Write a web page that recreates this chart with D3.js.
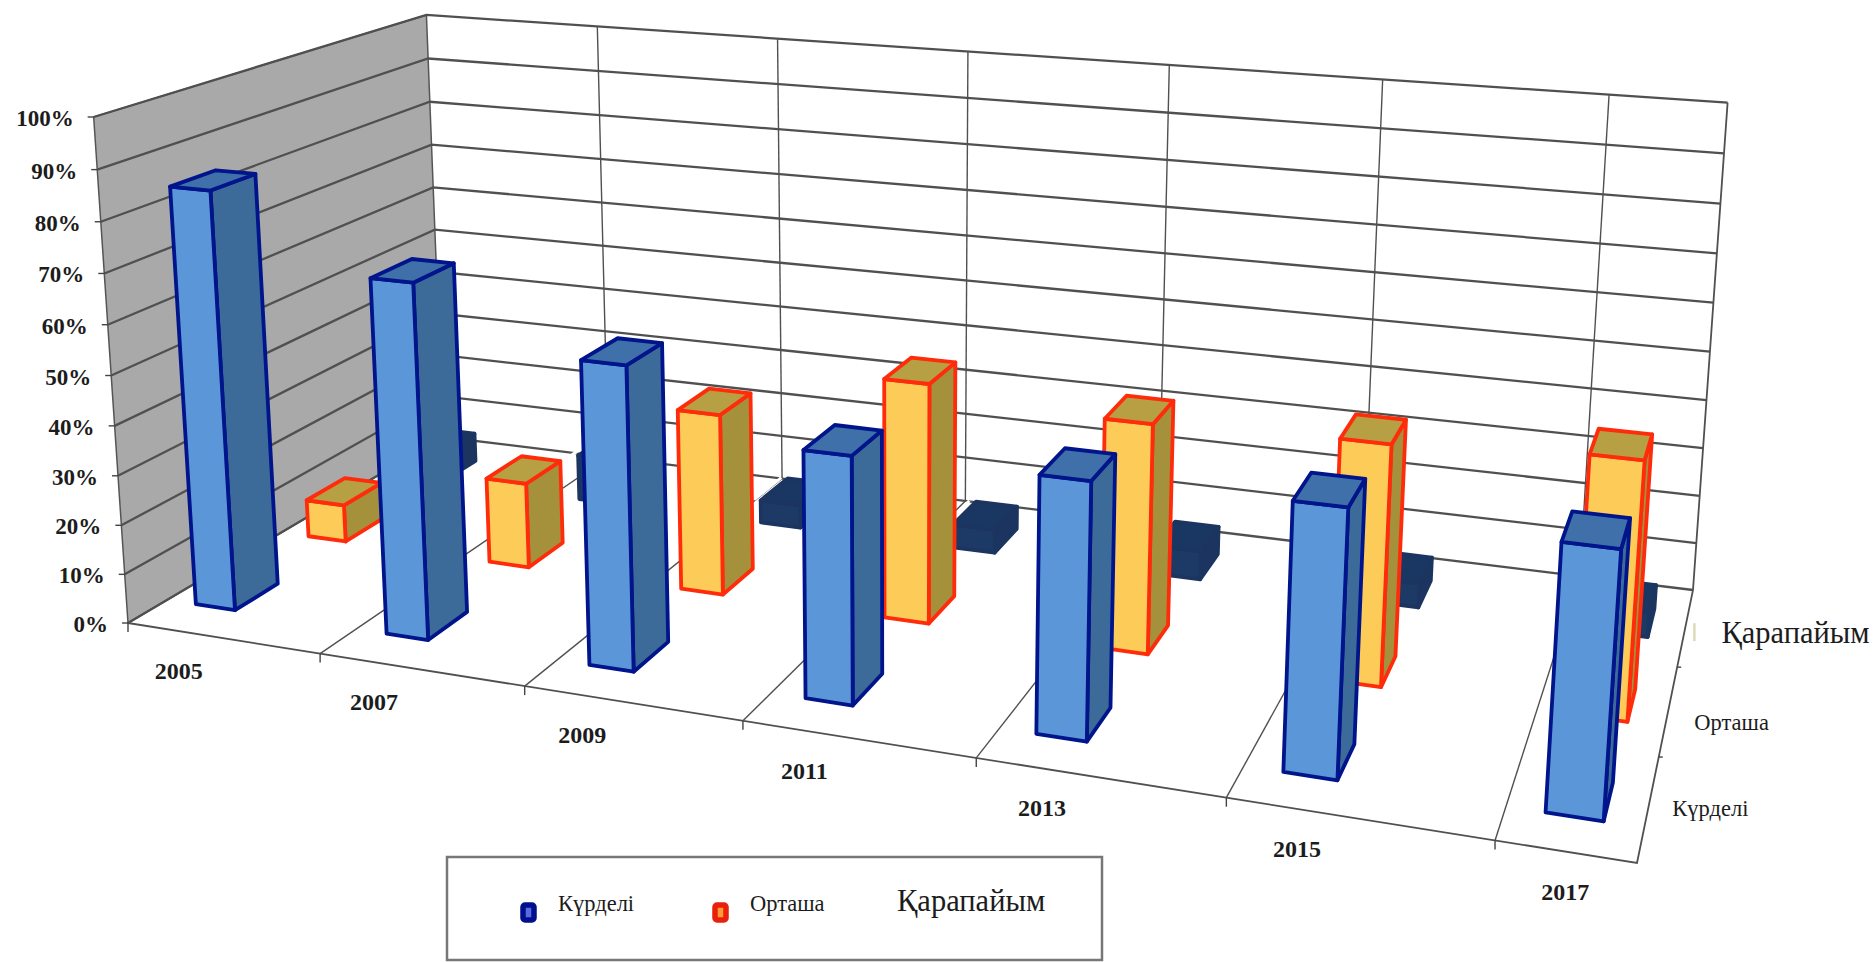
<!DOCTYPE html>
<html>
<head>
<meta charset="utf-8">
<script src="https://cdn.jsdelivr.net/npm/d3@7"></script>
<style>
  body { margin: 0; background: #fff; }
  text { font-family: "Liberation Serif", serif; fill: #1c1c1c; }
</style>
</head>
<body>
<div id="chart"></div>
<script>
const years = [2005, 2007, 2009, 2011, 2013, 2015, 2017];
const seriesNames = ["Күрделі", "Орташа", "Қарапайым"];
const kurdeli = [84.5, 70.6, 59.3, 47.3, 48, 48.8, 47.3];
const ortasha = [8, 18, 37.5, 48.6, 45.6, 46.8, 49];
const karapaiym = [6.5, 10, 5, 5, 6, 5, 5];
const percentTicks = [0, 10, 20, 30, 40, 50, 60, 70, 80, 90, 100];

const WIDTH = 1874, HEIGHT = 962;

// Floor corners and the point where upright edges converge
const FL = [128, 623], FR = [1637, 863], BR = [1693, 590], BL = [443, 437];
const VANISH = [900, 12000];
const TOP_OF_FL = 117;
// Extra vertical drift at full height, across and into the box
const TILT_U = 13, TILT_W = -2.5;

// World units: one band per two years (the last band is cut in half), one unit per series row
const xWorld = d3.scaleLinear().domain([2005, 2015, 2017]).range([0.26, 5.26, 6.25]);
const xLabel = d3.scaleLinear().domain([2005, 2015, 2017]).range([0.27, 5.27, 6.25]);
const xEdge = d3.scaleLinear().domain([0, 6.5]).range([0, 1]);
const zEdge = d3.scaleLinear().domain([0, 3]).range([0, 1]);
const yWorld = d3.scaleLinear().domain([0, 100]).range([0, 1]);

// Unit square to quad homography
const homography = (function () {
  const [x0, y0] = FL, [x1, y1] = FR, [x2, y2] = BR, [x3, y3] = BL;
  const dx1 = x1 - x2, dx2 = x3 - x2, sx = x0 - x1 + x2 - x3;
  const dy1 = y1 - y2, dy2 = y3 - y2, sy = y0 - y1 + y2 - y3;
  const den = dx1 * dy2 - dx2 * dy1;
  const g = (sx * dy2 - dx2 * sy) / den;
  const h = (dx1 * sy - sx * dy1) / den;
  return {
    a: x1 - x0 + g * x1, b: x3 - x0 + h * x3, c: x0,
    d: y1 - y0 + g * y1, e: y3 - y0 + h * y3, f: y0,
    g: g, h: h
  };
})();
const lambda = (TOP_OF_FL - FL[1]) / (VANISH[1] - TOP_OF_FL);

// x in bands, z in rows, v in percent
function project(x, z, v) {
  const u = xEdge(x), w = zEdge(z), s = yWorld(v), t = s * lambda;
  const H = homography;
  const X = H.a * u + H.b * w + H.c + t * VANISH[0];
  const Y = H.d * u + H.e * w + H.f + t * VANISH[1];
  const W = H.g * u + H.h * w + 1 + t;
  return [X / W, Y / W + s * (TILT_U * u + TILT_W * w)];
}

const line = d3.line();
const closed = pts => line(pts) + "Z";

const svg = d3.select("#chart").append("svg")
  .attr("width", WIDTH)
  .attr("height", HEIGHT);

// Left wall
svg.append("path")
  .attr("d", closed([project(0, 0, 0), project(0, 3, 0), project(0, 3, 100), project(0, 0, 100)]))
  .attr("fill", "#a9a9a9")
  .attr("stroke", "#555")
  .attr("stroke-width", 1.5);

const grid = svg.append("g")
  .attr("fill", "none")
  .attr("stroke", "#505050")
  .attr("stroke-width", 2.3);

// Percent gridlines on both walls
grid.selectAll(".wall")
  .data(percentTicks)
  .enter()
  .append("path")
    .attr("class", "wall")
    .attr("d", d => line([project(0, 0, d), project(0, 3, d), project(6.5, 3, d)]));

const bandEdges = d3.range(0, 7);

// Band dividers up the back wall
grid.selectAll(".upright")
  .data(bandEdges.slice(1))
  .enter()
  .append("path")
    .attr("class", "upright")
    .attr("stroke-width", 1.4)
    .attr("d", d => line([project(d, 3, 0), project(d, 3, 100)]));

// Floor outline and dividers
grid.selectAll(".floor")
  .data(bandEdges)
  .enter()
  .append("path")
    .attr("class", "floor")
    .attr("stroke-width", 1.4)
    .attr("d", d => line([project(d, 0, 0), project(d, 3, 0)]));
grid.append("path")
  .attr("d", line([project(0, 0, 0), project(6.5, 0, 0), project(6.5, 3, 0), project(6.5, 3, 100)]))
  .attr("stroke-width", 1.8);

// Tick marks
const ticks = svg.append("g").attr("stroke", "#444").attr("stroke-width", 1.4);
ticks.selectAll(".ty").data(percentTicks).enter().append("path")
  .attr("class", "ty")
  .attr("d", d => { const p = project(0, 0, d); return line([[p[0] - 6, p[1]], p]); });
ticks.selectAll(".tx").data(bandEdges).enter().append("path")
  .attr("class", "tx")
  .attr("d", d => { const p = project(d, 0, 0); return line([p, [p[0], p[1] + 9]]); });
ticks.selectAll(".tz").data([1, 2]).enter().append("path")
  .attr("class", "tz")
  .attr("d", d => { const p = project(6.5, d, 0); return line([p, [p[0] + 4, p[1]]]); });

// Bars, back row first so that nearer rows cover it
const BAR_HALF_X = 0.105, BAR_HALF_Z = 0.185;
const rows = [
  { name: seriesNames[2], values: karapaiym, z: 2.5, stroke: "#1b3560", front: "#1d3a66", side: "#1b3560", top: "#1a3763" },
  { name: seriesNames[1], values: ortasha, z: 1.5, stroke: "#ff2c0c", front: "#fdcb58", side: "#a5903c", top: "#b7a043" },
  { name: seriesNames[0], values: kurdeli, z: 0.5, stroke: "#00148c", front: "#5b97d8", side: "#3c6a99", top: "#3f70a9" }
];

rows.forEach(function (row) {
  const bars = years.map((y, i) => ({ x: xWorld(y), v: row.values[i] }));
  const g = svg.append("g")
    .attr("stroke", row.stroke)
    .attr("stroke-width", 3.8)
    .attr("stroke-linejoin", "round");
  const x0 = d => d.x - BAR_HALF_X, x1 = d => d.x + BAR_HALF_X;
  const z0 = row.z - BAR_HALF_Z, z1 = row.z + BAR_HALF_Z;

  // The back row carries a pale strip along its left top edge
  if (row.z > 2) {
    g.selectAll(".edge").data(bars).enter().append("path")
      .attr("class", "edge")
      .attr("fill", "none")
      .attr("stroke", "#fff")
      .attr("stroke-width", 3)
      .attr("d", d => line([project(x0(d) - 0.035, z0, d.v), project(x0(d) - 0.035, z1, d.v)]));
  }

  g.selectAll(".side").data(bars).enter().append("path")
    .attr("class", "side")
    .attr("fill", row.side)
    .attr("d", d => closed([project(x1(d), z0, 0), project(x1(d), z1, 0), project(x1(d), z1, d.v), project(x1(d), z0, d.v)]));
  g.selectAll(".front").data(bars).enter().append("path")
    .attr("class", "front")
    .attr("fill", row.front)
    .attr("d", d => closed([project(x0(d), z0, 0), project(x1(d), z0, 0), project(x1(d), z0, d.v), project(x0(d), z0, d.v)]));
  g.selectAll(".top").data(bars).enter().append("path")
    .attr("class", "top")
    .attr("fill", row.top)
    .attr("d", d => closed([project(x0(d), z0, d.v), project(x1(d), z0, d.v), project(x1(d), z1, d.v), project(x0(d), z1, d.v)]));
});

// Percent labels
svg.append("g").selectAll("text")
  .data(percentTicks)
  .enter()
  .append("text")
    .attr("x", d => project(0, 0, d)[0] - 20)
    .attr("y", d => project(0, 0, d)[1] + 9)
    .attr("text-anchor", "end")
    .attr("font-size", 23)
    .attr("font-weight", "bold")
    .text(d => d + "%");

// Year labels
svg.append("g").selectAll("text")
  .data(years)
  .enter()
  .append("text")
    .attr("x", d => project(xLabel(d), 0, 0)[0])
    .attr("y", d => project(xLabel(d), 0, 0)[1] + 48)
    .attr("text-anchor", "middle")
    .attr("font-size", 24)
    .attr("font-weight", "bold")
    .text(d => d);

// Series labels along the depth axis
const rowLabelDx = { "Күрделі": 24, "Орташа": 26, "Қарапайым": 36 };
const rowLabelDy = { "Күрделі": 8, "Орташа": 20, "Қарапайым": 16 };
svg.append("g").selectAll("text")
  .data(rows)
  .enter()
  .append("text")
    .attr("x", d => project(6.5, d.z, 0)[0] + rowLabelDx[d.name])
    .attr("y", d => project(6.5, d.z, 0)[1] + rowLabelDy[d.name])
    .attr("font-size", d => d.z > 2 ? 30.5 : 22.5)
    .text(d => d.name);

// Faint stub by the back row label
const stub = project(6.5, 2.5, 0);
svg.append("line")
  .attr("x1", stub[0] + 9).attr("x2", stub[0] + 9)
  .attr("y1", stub[1] - 4).attr("y2", stub[1] + 14)
  .attr("stroke", "#dcdcb4")
  .attr("stroke-width", 2.5);

// Legend
const legend = svg.append("g");
legend.append("rect")
  .attr("x", 447).attr("y", 857)
  .attr("width", 655).attr("height", 103)
  .attr("fill", "#fff")
  .attr("stroke", "#777")
  .attr("stroke-width", 2.5);

const legendX = d3.scaleOrdinal().domain(seriesNames).range([558, 750, 897]);
legend.selectAll("rect.key")
  .data(rows.filter(d => d.z < 2))
  .enter()
  .append("rect")
    .attr("class", "key")
    .attr("x", d => legendX(d.name) - 35)
    .attr("y", 905)
    .attr("width", 11).attr("height", 15).attr("rx", 2)
    .attr("fill", d => d.z > 1 ? "#ff9a3a" : "#5a6ae0")
    .attr("stroke", d => d.z > 1 ? "#e8200c" : "#00108c")
    .attr("stroke-width", 5.5);
legend.selectAll("text.name")
  .data(rows)
  .enter()
  .append("text")
    .attr("class", "name")
    .attr("x", d => legendX(d.name))
    .attr("y", 911)
    .attr("font-size", d => d.z > 2 ? 30.5 : 22.5)
    .text(d => d.name);
</script>
</body>
</html>
